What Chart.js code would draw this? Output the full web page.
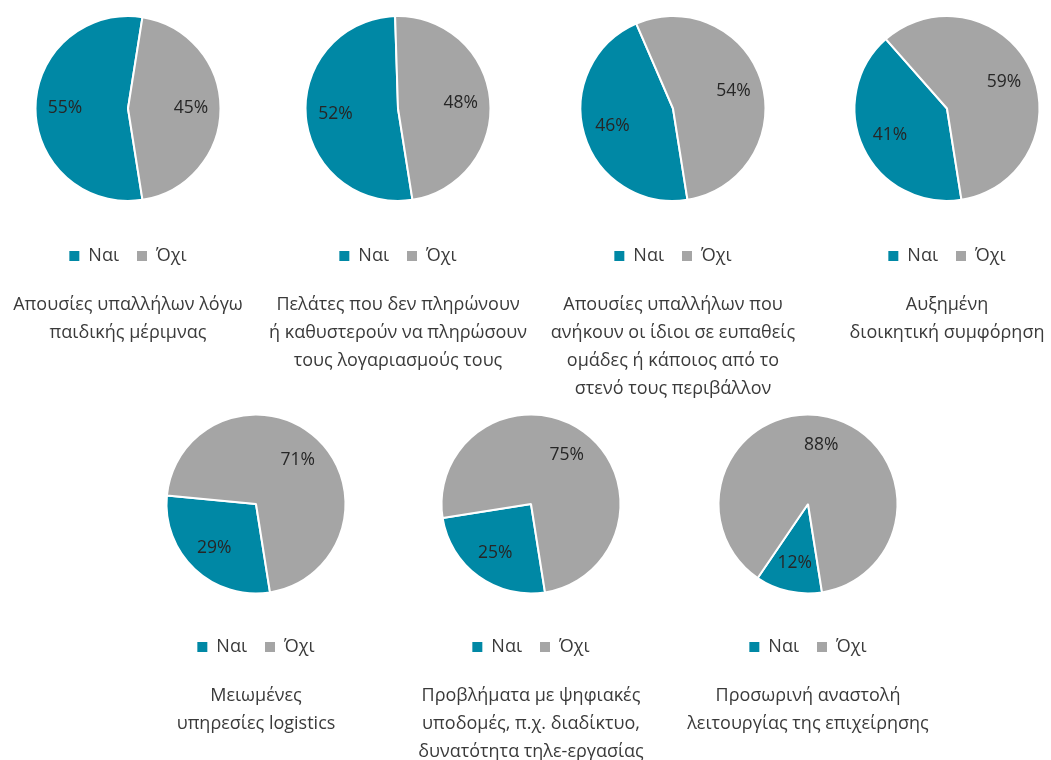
<!DOCTYPE html>
<html>
<head>
<meta charset="utf-8">
<script src="https://cdn.jsdelivr.net/npm/chart.js@4"></script>
<style>
  html, body { margin: 0; padding: 0; background: #ffffff; }
  #wrap { position: relative; width: 1051px; height: 760px; overflow: hidden; background: #ffffff; }
  #wrap canvas { position: absolute; }
</style>
</head>
<body>
<div id="wrap"></div>
<script>
// ---- data ----
const categories = ['Ναι', 'Όχι'];
const titles = [
  ['Απουσίες υπαλλήλων λόγω', 'παιδικής μέριμνας'],
  ['Πελάτες που δεν πληρώνουν', 'ή καθυστερούν να πληρώσουν', 'τους λογαριασμούς τους'],
  ['Απουσίες υπαλλήλων που', 'ανήκουν οι ίδιοι σε ευπαθείς', 'ομάδες ή κάποιος από το', 'στενό τους περιβάλλον'],
  ['Αυξημένη', 'διοικητική συμφόρηση'],
  ['Μειωμένες', 'υπηρεσίες logistics'],
  ['Προβλήματα με ψηφιακές', 'υποδομές, π.χ. διαδίκτυο,', 'δυνατότητα τηλε-εργασίας'],
  ['Προσωρινή αναστολή', 'λειτουργίας της επιχείρησης']
];
const yesValues = [55, 52, 46, 41, 29, 25, 12];
const noValues  = [45, 48, 54, 59, 71, 75, 88];

// ---- layout (page placement of each small chart) ----
const layout = [
  { cx: 128, top: -12, area: 241, radius: 92.5 },
  { cx: 398, top: -12, area: 241, radius: 92.5 },
  { cx: 673, top: -12, area: 241, radius: 92.5 },
  { cx: 947, top: -12, area: 241, radius: 92.5 },
  { cx: 256, top: 387.5, area: 232, radius: 89.5 },
  { cx: 531, top: 387.5, area: 232, radius: 89.5 },
  { cx: 808, top: 387.5, area: 232, radius: 89.5 }
];
const COLORS = ['#0088A5', '#A5A5A5'];
const TEXT = '#3a3a3a';
const FONT = '"Open Sans", "Noto Sans", sans-serif';
const CANVAS_W = 310;
const LEGEND_FONT = 18, LEGEND_PAD = 18;
const TITLE_FONT = 18, TITLE_LH = 28, TITLE_PAD = 16;

const pctLabels = {
  id: 'pctLabels',
  afterDatasetsDraw(chart) {
    const ctx = chart.ctx;
    const meta = chart.getDatasetMeta(0);
    const data = chart.data.datasets[0].data;
    ctx.save();
    ctx.font = '17.5px ' + FONT;
    ctx.fillStyle = '#262626';
    ctx.textAlign = 'center';
    ctx.textBaseline = 'middle';
    meta.data.forEach((arc, i) => {
      const p = arc.getProps(['x', 'y', 'startAngle', 'endAngle', 'outerRadius'], true);
      const mid = (p.startAngle + p.endAngle) / 2;
      const d = p.outerRadius * 0.68;
      ctx.fillText(data[i] + '%', p.x + Math.cos(mid) * d, p.y + Math.sin(mid) * d);
    });
    ctx.restore();
  }
};

const defaultLabels = Chart.overrides.pie.plugins.legend.labels.generateLabels;
const wrap = document.getElementById('wrap');

titles.forEach((t, i) => {
  const L = layout[i];
  const legendH = LEGEND_FONT + LEGEND_PAD + 10;
  const titleH = TITLE_PAD + t.length * TITLE_LH;
  const H = Math.ceil(L.area + legendH + titleH + 4);
  const cv = document.createElement('canvas');
  cv.width = CANVAS_W;
  cv.height = H;
  cv.style.width = CANVAS_W + 'px';
  cv.style.height = H + 'px';
  cv.style.left = (L.cx - CANVAS_W / 2) + 'px';
  cv.style.top = L.top + 'px';
  wrap.appendChild(cv);

  new Chart(cv, {
    type: 'pie',
    data: {
      labels: categories,
      datasets: [{
        data: [yesValues[i], noValues[i]],
        backgroundColor: COLORS,
        borderColor: '#ffffff',
        borderWidth: 2,
        clip: false
      }]
    },
    options: {
      responsive: false,
      animation: false,
      devicePixelRatio: 1,
      rotation: 171,
      radius: L.radius,
      layout: { padding: { top: 0, bottom: H - (L.area + legendH + titleH), left: 0, right: 0 } },
      plugins: {
        tooltip: { enabled: false },
        legend: {
          position: 'bottom',
          labels: {
            font: { family: FONT, size: LEGEND_FONT },
            color: TEXT,
            boxWidth: 10,
            boxHeight: 10,
            padding: LEGEND_PAD,
            generateLabels(chart) {
              return defaultLabels(chart).map(l => Object.assign(l, { lineWidth: 0 }));
            }
          }
        },
        title: {
          display: true,
          position: 'bottom',
          text: t,
          color: TEXT,
          font: { family: FONT, size: TITLE_FONT, weight: 'normal', lineHeight: TITLE_LH / TITLE_FONT },
          padding: { top: TITLE_PAD, bottom: 0 }
        }
      }
    },
    plugins: [pctLabels]
  });
});
</script>
</body>
</html>
